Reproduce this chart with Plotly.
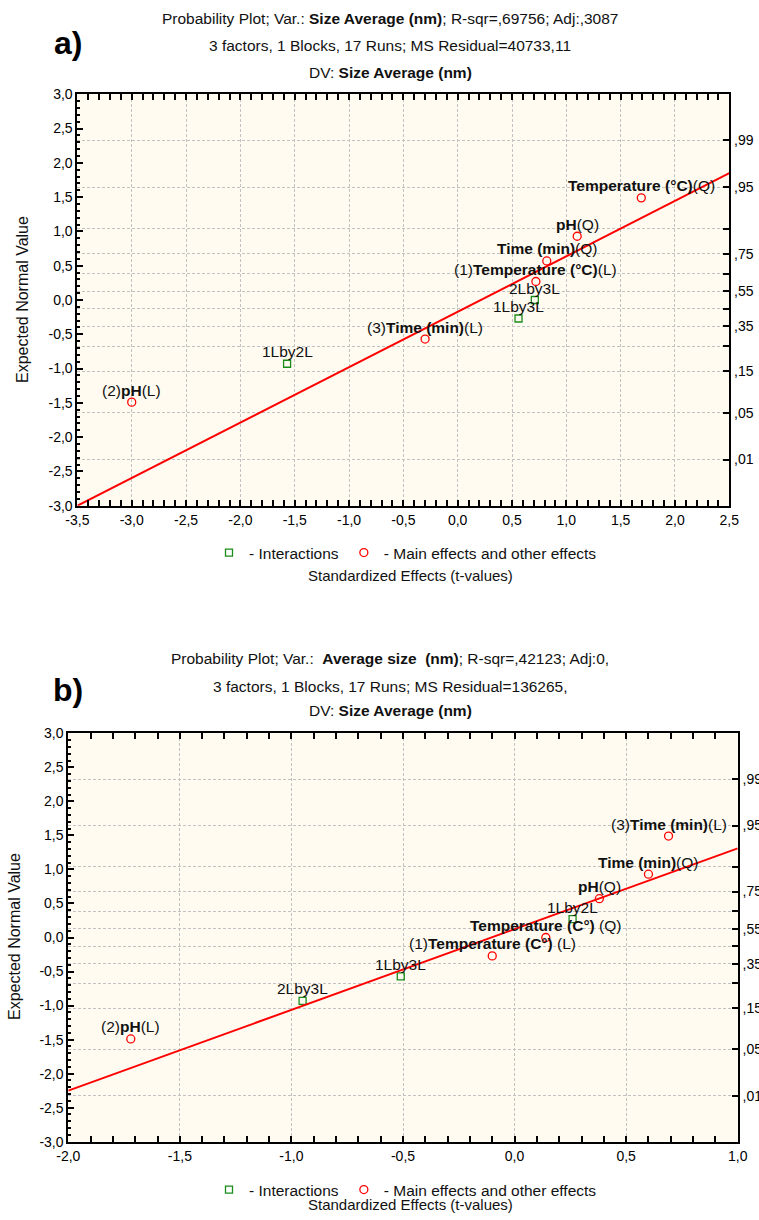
import plotly.graph_objects as go
from statistics import NormalDist

W, H = 759, 1220

# ---------------- data: panel a ----------------
a_main_labels = ["(2)<b>pH</b>(L)", "(3)<b>Time (min)</b>(L)", "(1)<b>Temperature (°C)</b>(L)",
                 "<b>Time (min)</b>(Q)", "<b>pH</b>(Q)", "<b>Temperature (°C)</b>(Q)"]
a_main_x = [-3.0, -0.30, 0.72, 0.82, 1.10, 1.69]
a_main_y = [-1.49, -0.57, 0.27, 0.57, 0.93, 1.49]
a_int_labels = ["1Lby2L", "1Lby3L", "2Lby3L"]
a_int_x = [-1.57, 0.56, 0.71]
a_int_y = [-0.93, -0.27, 0.0]
a_line_x = [-3.5, 2.5]
a_line_y = [-3.0, 1.85]
a_x_ticks = [-3.5, -3.0, -2.5, -2.0, -1.5, -1.0, -0.5, 0.0, 0.5, 1.0, 1.5, 2.0, 2.5]

# ---------------- data: panel b ----------------
b_main_labels = ["(2)<b>pH</b>(L)", "(1)<b>Temperature (C°)</b> (L)", "<b>Temperature (C°)</b> (Q)",
                 "<b>pH</b>(Q)", "<b>Time (min)</b>(Q)", "(3)<b>Time (min)</b>(L)"]
b_main_x = [-1.72, -0.10, 0.14, 0.38, 0.60, 0.69]
b_main_y = [-1.49, -0.27, 0.0, 0.57, 0.93, 1.49]
b_int_labels = ["2Lby3L", "1Lby3L", "1Lby2L"]
b_int_x = [-0.95, -0.51, 0.26]
b_int_y = [-0.93, -0.57, 0.27]
b_line_x = [-2.0, 1.0]
b_line_y = [-2.25, 1.31]
b_x_ticks = [-2.0, -1.5, -1.0, -0.5, 0.0, 0.5, 1.0]

# ---------------- shared ticks ----------------
y_ticks = [-3.0, -2.5, -2.0, -1.5, -1.0, -0.5, 0.0, 0.5, 1.0, 1.5, 2.0, 2.5, 3.0]
prob_ticks = [0.01, 0.05, 0.15, 0.25, 0.35, 0.45, 0.55, 0.65, 0.75, 0.85, 0.95, 0.99]
prob_labels = [",01", ",05", ",15", "", ",35", "", ",55", "", ",75", "", ",95", ",99"]

FONT = "Liberation Sans, Arial, sans-serif"
RED = "#ff0000"
GREEN = "#1a8c1a"
GRID = "#c2c2c2"
DASH = "3px,2px"
TXT = 15.5


def fmt(v):
    return f"{v:.1f}".replace(".", ",")


def px(x):
    return x / W


def py(y):
    return 1 - y / H


def xaxis(domain, rng, ticks, anchor):
    return dict(domain=domain, range=rng, anchor=anchor, automargin=False, tickmode="array",
                tickvals=ticks, ticktext=[fmt(v) for v in ticks], ticks="inside", ticklen=6,
                tickwidth=1.5, tickcolor="black", showline=True, linewidth=2, linecolor="black",
                mirror="allticks", showgrid=True, gridcolor=GRID, griddash=DASH, gridwidth=1,
                zeroline=False, tickfont=dict(size=14, color="black", family=FONT),
                minor=dict(tickmode="linear", tick0=0, dtick=0.1, ticks="inside", ticklen=3,
                           tickcolor="black", showgrid=False))


def yaxis(domain, anchor):
    return dict(domain=domain, range=[-3, 3], anchor=anchor, automargin=False, tickmode="array",
                tickvals=y_ticks, ticktext=[fmt(v) for v in y_ticks], ticks="inside", ticklen=6,
                tickwidth=1.5, tickcolor="black", showline=True, linewidth=2, linecolor="black",
                showgrid=False, zeroline=False, tickfont=dict(size=14, color="black", family=FONT),
                minor=dict(tickmode="linear", tick0=0, dtick=0.1, ticks="inside", ticklen=3,
                           tickcolor="black", showgrid=False))


def yprob(over, anchor):
    return dict(overlaying=over, side="right", anchor=anchor, automargin=False, range=[-3, 3],
                tickmode="array", tickvals=[NormalDist().inv_cdf(p) for p in prob_ticks],
                ticktext=prob_labels, ticks="inside", ticklen=6, tickwidth=1.5, tickcolor="black",
                showline=True, linewidth=2, linecolor="black", showgrid=True, gridcolor=GRID,
                griddash=DASH, gridwidth=1, zeroline=False,
                tickfont=dict(size=14, color="black", family=FONT))


fig = go.Figure()

panels = [
    dict(xa="x", ya="y2", yl="y", leg="legend", main=(a_main_x, a_main_y, a_main_labels),
         inter=(a_int_x, a_int_y, a_int_labels), line=(a_line_x, a_line_y)),
    dict(xa="x2", ya="y4", yl="y3", leg="legend2", main=(b_main_x, b_main_y, b_main_labels),
         inter=(b_int_x, b_int_y, b_int_labels), line=(b_line_x, b_line_y)),
]

annotations = []
for p in panels:
    lx, ly = p["line"]
    fig.add_trace(go.Scatter(x=lx, y=ly, mode="lines", line=dict(color=RED, width=2),
                             xaxis=p["xa"], yaxis=p["ya"], showlegend=False, hoverinfo="skip"))
    ix, iy, il = p["inter"]
    fig.add_trace(go.Scatter(x=ix, y=iy, mode="markers", name="- Interactions",
                             marker=dict(symbol="square-open", size=7, color=GREEN, line=dict(width=1.3)),
                             xaxis=p["xa"], yaxis=p["yl"], legend=p["leg"]))
    mx, my, ml = p["main"]
    fig.add_trace(go.Scatter(x=mx, y=my, mode="markers", name="- Main effects and other effects",
                             marker=dict(symbol="circle-open", size=8, color=RED, line=dict(width=1.3)),
                             xaxis=p["xa"], yaxis=p["yl"], legend=p["leg"]))
    for xs, ys, ls in (p["inter"], p["main"]):
        for x, y, t in zip(xs, ys, ls):
            annotations.append(dict(x=x, y=y, xref=p["xa"], yref=p["yl"], text=t, showarrow=False,
                                    yshift=12, font=dict(size=TXT, color="#111", family=FONT)))

# titles
titles = [
    (18, "Probability Plot; Var.: <b>Size Average (nm)</b>; R-sqr=,69756; Adj:,3087"),
    (46, "3 factors, 1 Blocks, 17 Runs; MS Residual=40733,11"),
    (72, "DV: <b>Size Average (nm)</b>"),
    (659, "Probability Plot; Var.:  <b>Average size  (nm)</b>; R-sqr=,42123; Adj:0,"),
    (686, "3 factors, 1 Blocks, 17 Runs; MS Residual=136265,"),
    (710, "DV: <b>Size Average (nm)</b>"),
]
for yy, t in titles:
    annotations.append(dict(x=px(390), y=py(yy), xref="paper", yref="paper", text=t, showarrow=False,
                            xanchor="center", yanchor="middle", font=dict(size=TXT, color="#111", family=FONT)))

for yy, t in ((43, "a)"), (690, "b)")):
    annotations.append(dict(x=px(68), y=py(yy), xref="paper", yref="paper", text=f"<b>{t}</b>",
                            showarrow=False, xanchor="center", yanchor="middle",
                            font=dict(size=32, color="black", family=FONT)))

for xx, yy in ((22, 300), (14, 937)):
    annotations.append(dict(x=px(xx), y=py(yy), xref="paper", yref="paper", text="Expected Normal Value",
                            showarrow=False, textangle=-90, xanchor="center", yanchor="middle",
                            font=dict(size=16, color="#111", family=FONT)))

for yy in (575, 1204):
    annotations.append(dict(x=px(410), y=py(yy), xref="paper", yref="paper",
                            text="Standardized Effects (t-values)", showarrow=False,
                            xanchor="center", yanchor="middle", font=dict(size=15, color="#111", family=FONT)))

leg_common = dict(orientation="h", xanchor="left", yanchor="middle", bgcolor="rgba(0,0,0,0)",
                  font=dict(size=TXT, color="#111", family=FONT), itemwidth=30)

fig.update_layout(
    width=W, height=H, margin=dict(l=0, r=0, t=0, b=0, autoexpand=False),
    paper_bgcolor="white", plot_bgcolor="#fffbf0",
    xaxis=xaxis([px(77.4), px(729.3)], [-3.5, 2.5], a_x_ticks, "y"),
    yaxis=yaxis([py(505.7), py(94.3)], "x"),
    yaxis2=yprob("y", "x"),
    xaxis2=xaxis([px(68.3), px(737.7)], [-2.0, 1.0], b_x_ticks, "y3"),
    yaxis3=yaxis([py(1141.7), py(733.3)], "x2"),
    yaxis4=yprob("y3", "x2"),
    legend=dict(x=px(209), y=py(553), **leg_common),
    legend2=dict(x=px(209), y=py(1190), **leg_common),
    annotations=annotations,
    showlegend=True,
)

fig.write_html("out.html")
